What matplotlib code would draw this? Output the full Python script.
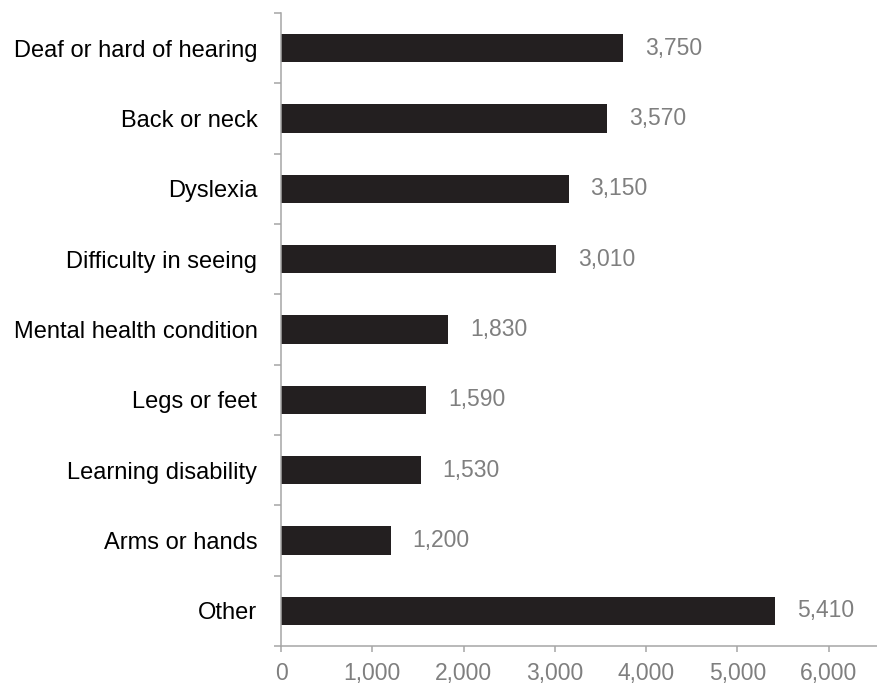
import matplotlib.pyplot as plt
from matplotlib.ticker import FixedLocator

categories = [
    "Deaf or hard of hearing",
    "Back or neck",
    "Dyslexia",
    "Difficulty in seeing",
    "Mental health condition",
    "Legs or feet",
    "Learning disability",
    "Arms or hands",
    "Other",
]
values = [3750, 3570, 3150, 3010, 1830, 1590, 1530, 1200, 5410]
x_ticks = [0, 1000, 2000, 3000, 4000, 5000, 6000]

plt.rcParams["font.family"] = ["Liberation Sans", "DejaVu Sans"]

bar_color = "#231f20"
axis_color = "#a6a6a6"
label_grey = "#7f7f7f"

fig = plt.figure(figsize=(8.77, 6.85), dpi=100)
ax = fig.add_axes([281 / 877, 39 / 685, 596 / 877, 633 / 685])

n = len(categories)
ypos = list(range(n))
ax.barh(ypos, values, height=0.4, color=bar_color)

# value labels just past the end of each bar
for y, v in zip(ypos, values):
    ax.text(v + 240, y, f"{v:,}", va="center", ha="left",
            fontsize=16.5, color=label_grey)

ax.set_xlim(0, 6528)
ax.set_ylim(n - 0.5, -0.5)

ax.set_yticks(ypos)
ax.set_yticklabels(categories, fontsize=17, color="black")
ax.tick_params(axis="y", which="major", length=0, pad=17)
ax.yaxis.set_minor_locator(FixedLocator([i - 0.5 for i in range(n + 1)]))
ax.tick_params(axis="y", which="minor", length=5, width=1.1, color=axis_color)

ax.set_xticks(x_ticks)
ax.set_xticklabels([f"{t:,}" for t in x_ticks], fontsize=16.5, color=label_grey)
ax.tick_params(axis="x", length=4.5, width=1.1, color=axis_color, pad=7)

for side in ["top", "right"]:
    ax.spines[side].set_visible(False)
for side in ["left", "bottom"]:
    ax.spines[side].set_color(axis_color)
    ax.spines[side].set_linewidth(1.1)

fig.savefig("out.png", dpi=100)
